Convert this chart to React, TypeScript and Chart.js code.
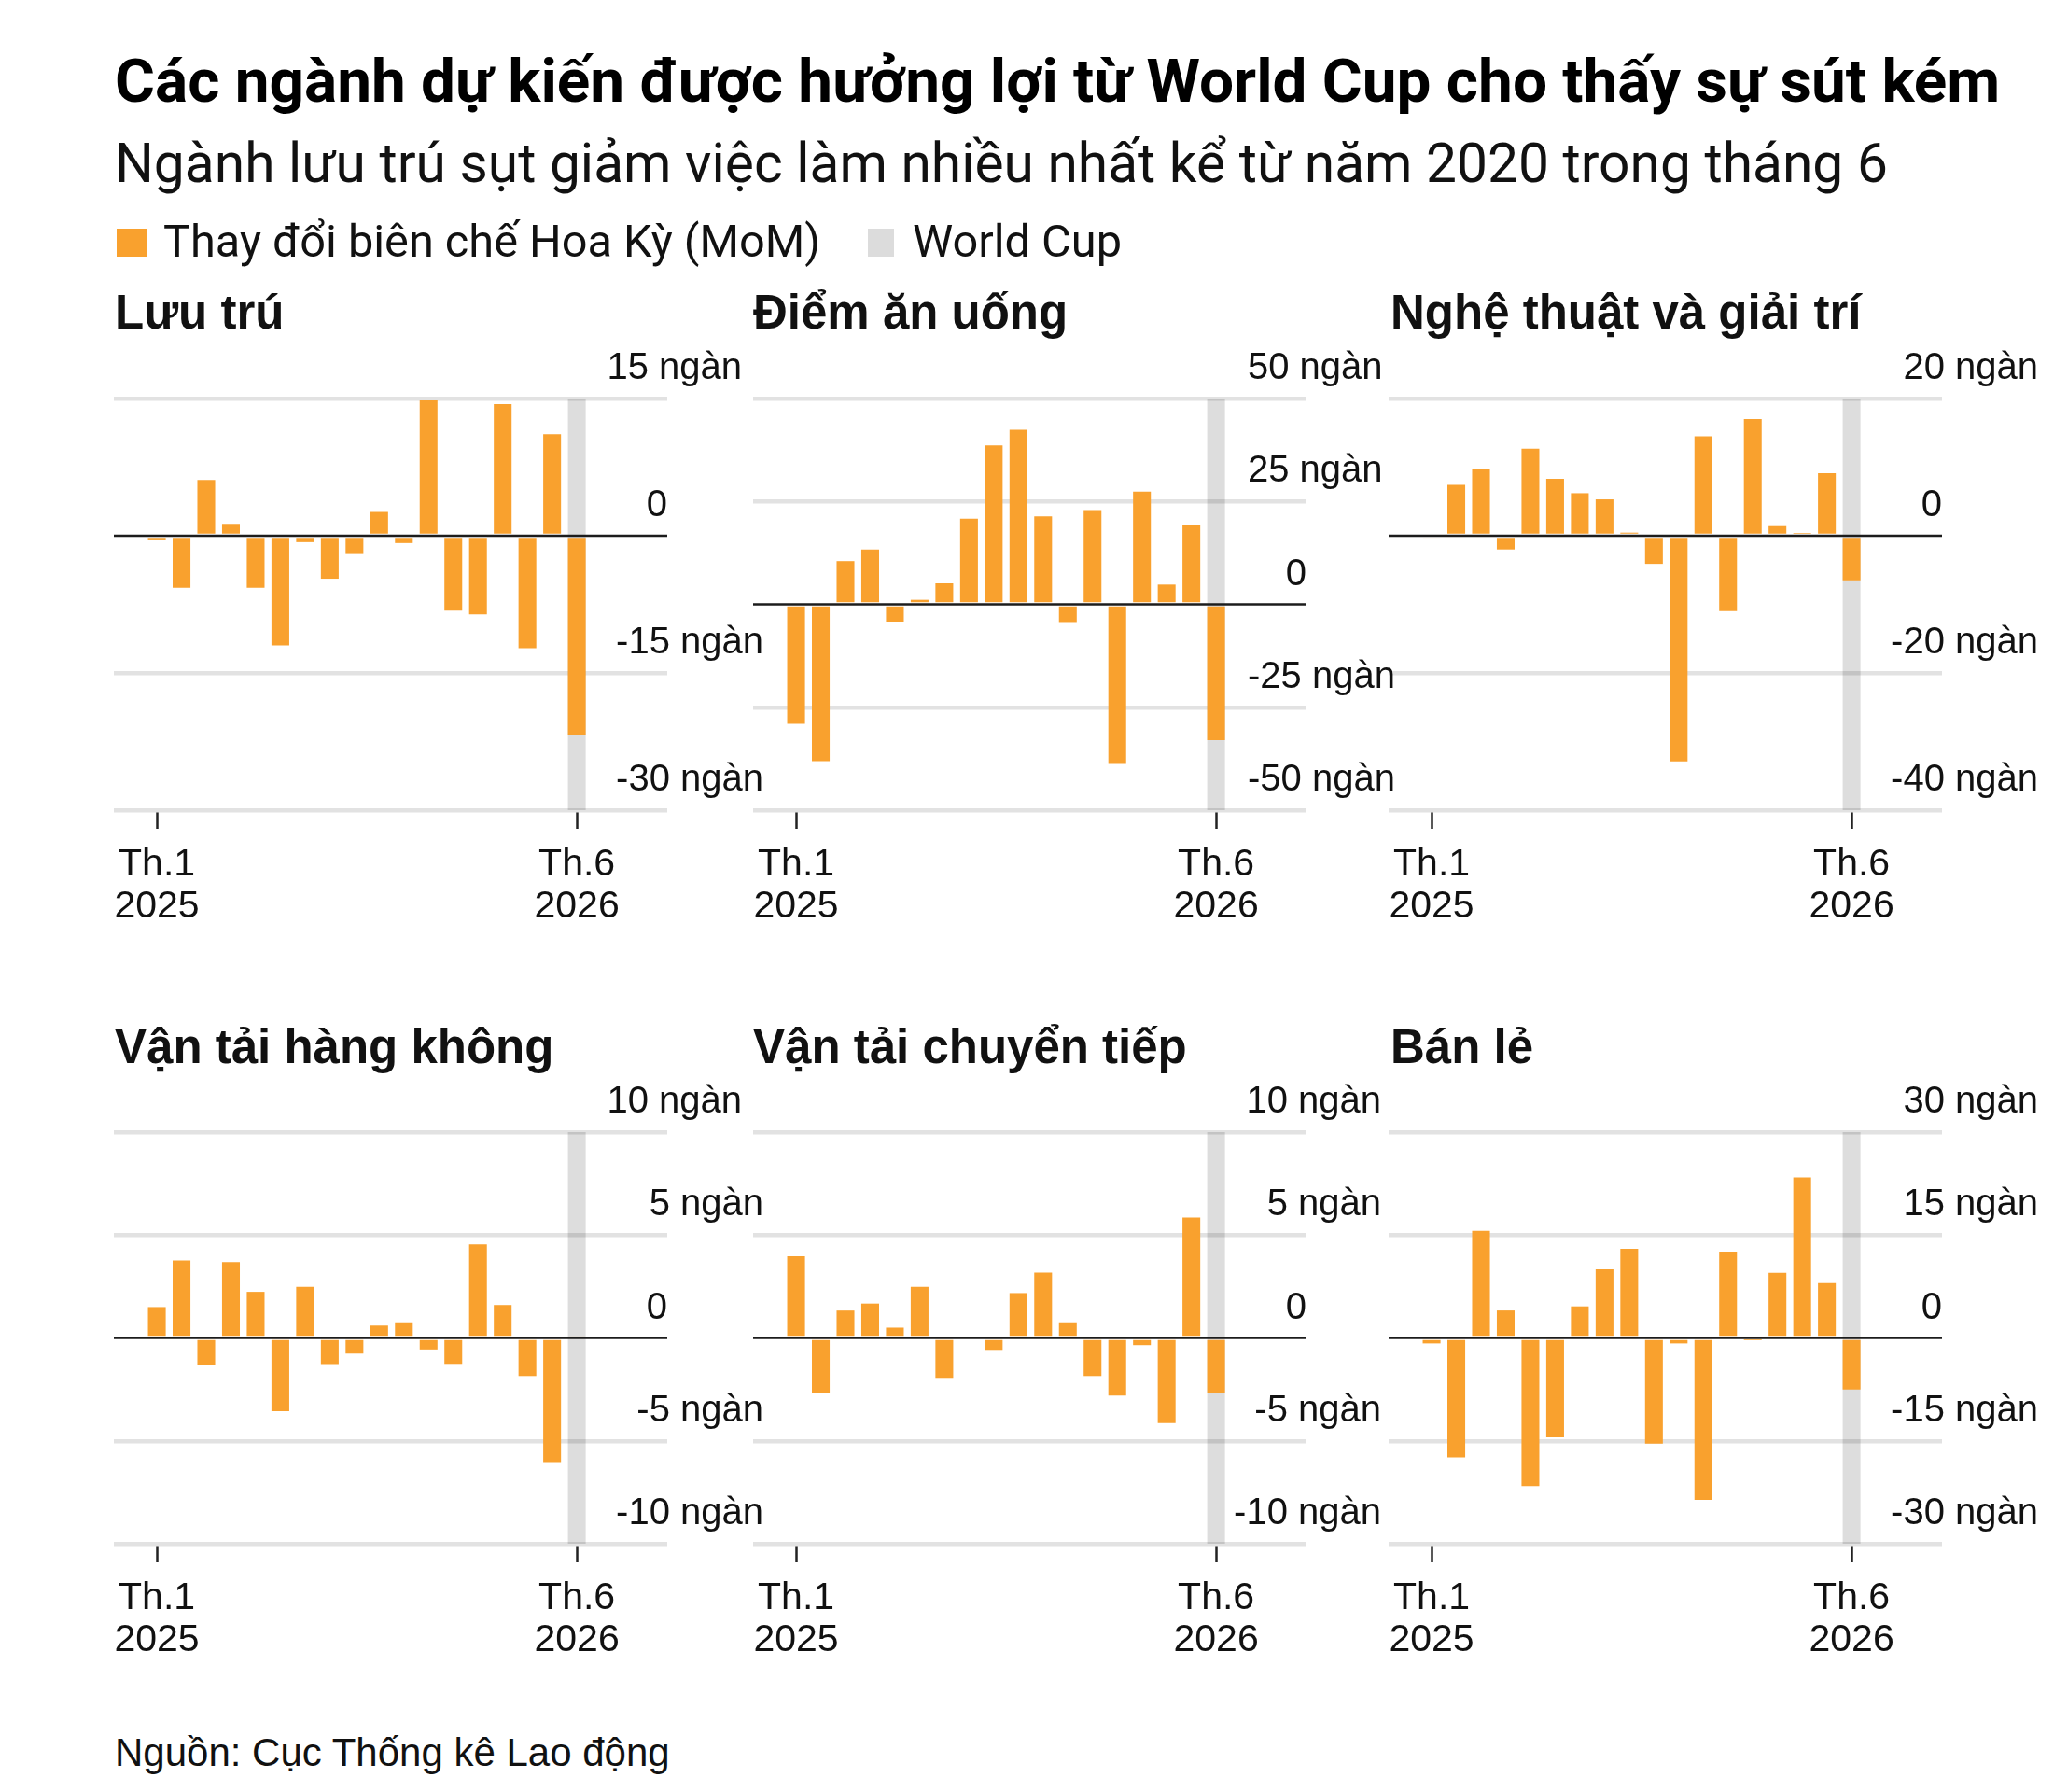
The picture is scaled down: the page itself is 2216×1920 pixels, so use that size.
import React, { useEffect, useRef } from 'react';
import { Chart, registerables } from 'chart.js';

Chart.register(...registerables);

// ---------- data (thousands of jobs, month-over-month change) ----------
const MONTHS = [
  'Th.1 2025', 'Th.2 2025', 'Th.3 2025', 'Th.4 2025', 'Th.5 2025', 'Th.6 2025',
  'Th.7 2025', 'Th.8 2025', 'Th.9 2025', 'Th.10 2025', 'Th.11 2025', 'Th.12 2025',
  'Th.1 2026', 'Th.2 2026', 'Th.3 2026', 'Th.4 2026', 'Th.5 2026', 'Th.6 2026',
];

const LUU_TRU = [-0.5, -5.7, 6.1, 1.3, -5.7, -12.0, -0.7, -4.7, -2.0, 2.6, -0.8, 14.8, -8.2, -8.6, 14.4, -12.3, 11.1, -21.8];
const DIEM_AN_UONG = [-29.0, -38.1, 10.5, 13.3, -4.2, 1.1, 5.1, 20.8, 38.6, 42.4, 21.4, -4.3, 22.9, -38.8, 27.4, 4.8, 19.2, -33.0];
const NGHE_THUAT = [-0.3, 7.4, 9.8, -2.0, 12.7, 8.3, 6.2, 5.3, 0.45, -4.1, -32.9, 14.5, -11.0, 17.0, 1.4, 0.4, 9.1, -6.5];
const VAN_TAI_HANG_KHONG = [1.5, 3.76, -1.33, 3.68, 2.24, -3.56, 2.48, -1.27, -0.76, 0.6, 0.76, -0.56, -1.26, 4.55, 1.6, -1.85, -6.03, 0.1];
const VAN_TAI_CHUYEN_TIEP = [3.97, -2.67, 1.33, 1.67, 0.5, 2.48, -1.94, 0, -0.58, 2.18, 3.18, 0.76, -1.85, -2.8, -0.35, -4.14, 5.85, -2.65];
const BAN_LE = [-0.8, -17.4, 15.6, 4.0, -21.6, -14.5, 4.6, 10.0, 13.0, -15.4, -0.8, -23.6, 12.6, -0.2, 9.5, 23.4, 8.0, -7.5];

const SERIES = [LUU_TRU, DIEM_AN_UONG, NGHE_THUAT, VAN_TAI_HANG_KHONG, VAN_TAI_CHUYEN_TIEP, BAN_LE];
const PANEL_TITLES = ['Lưu trú', 'Điểm ăn uống', 'Nghệ thuật và giải trí', 'Vận tải hàng không', 'Vận tải chuyển tiếp', 'Bán lẻ'];

const Y_MIN = [-30, -50, -40, -10, -10, -30];
const Y_MAX = [15, 50, 20, 10, 10, 30];
const Y_STEP = [15, 25, 20, 5, 5, 15];
const Y_UNIT = 'ngàn';

const X_TICK_INDEX = [0, 17];
const X_TICK_LABELS = [['Th.1', '2025'], ['Th.6', '2026']];
const WORLD_CUP_INDEX = 17;

const TITLE = 'Các ngành dự kiến được hưởng lợi từ World Cup cho thấy sự sút kém';
const SUBTITLE = 'Ngành lưu trú sụt giảm việc làm nhiều nhất kể từ năm 2020 trong tháng 6';
const LEGEND_BARS = 'Thay đổi biên chế Hoa Kỳ (MoM)';
const LEGEND_WC = 'World Cup';
const SOURCE = 'Nguồn: Cục Thống kê Lao động';

// ---------- styling / layout ----------
const ORANGE = '#F9A12E';
const BAND = 'rgba(0,0,0,0.135)';
const GRID = '#e2e2e2';
const INK = '#111111';

const AREA_LEFT = [122, 807, 1488];
const AREA_TOP = [427, 1213];
const AREA_W = 593;
const AREA_H = 441;
const PAD_L = 10;
const PAD_T = 60;
const Y_AXIS_W = 125;
const X_AXIS_H = 130;
const CANVAS_W = PAD_L + AREA_W + Y_AXIS_W;
const CANVAS_H = PAD_T + AREA_H + X_AXIS_H;
const X_MIN = -1.74;
const X_MAX = 20.66;

const LABEL_ALIGN = ['right', 'left', 'right', 'right', 'right', 'right'];
const LABEL_X = [103, -63, 103, 103, 80, 103];
const TOP_LABEL_X = [80, -63, 103, 80, 80, 103];

const TITLE_LEFT = [123, 807, 1490];
const TITLE_TOP = [309, 1096];

const panelDecor = {
  id: 'panelDecor',
  afterDatasetsDraw(chart: any) {
    const { ctx, chartArea } = chart;
    const py = chart.scales.y.getPixelForValue(0);
    ctx.save();
    ctx.strokeStyle = '#1c1c1c';
    ctx.lineWidth = 2.5;
    ctx.beginPath();
    ctx.moveTo(chartArea.left, py);
    ctx.lineTo(chartArea.right, py);
    ctx.stroke();
    ctx.restore();
  },
  afterDraw(chart: any, _args: any, opts: any) {
    const { ctx, chartArea } = chart;
    const y = chart.scales.y;
    const topValue = Math.max(...y.ticks.map((t: any) => t.value));
    ctx.save();
    ctx.font = '40px "Liberation Sans"';
    ctx.fillStyle = INK;
    ctx.textBaseline = 'alphabetic';
    y.ticks.forEach((t: any) => {
      const py = y.getPixelForValue(t.value) - 21;
      if (t.value === 0) {
        ctx.textAlign = 'right';
        ctx.fillText('0', chartArea.right, py);
        return;
      }
      const dx = t.value === topValue ? opts.topX : opts.x;
      ctx.textAlign = opts.align;
      ctx.fillText(`${t.value} ${Y_UNIT}`, chartArea.right + dx, py);
    });
    ctx.restore();
  },
};

function Panel({ index }: { index: number }) {
  const ref = useRef<HTMLCanvasElement>(null);
  const col = index % 3;
  const row = Math.floor(index / 3);

  useEffect(() => {
    const values = SERIES[index];
    const yMin = Y_MIN[index];
    const yMax = Y_MAX[index];
    const chart = new Chart(ref.current as HTMLCanvasElement, {
      type: 'bar',
      data: {
        labels: MONTHS,
        datasets: [
          {
            label: LEGEND_BARS,
            data: values.map((v, i) => ({ x: i, y: v })),
            backgroundColor: ORANGE,
            borderWidth: 0,
            grouped: false,
            order: 1,
            barPercentage: 0.9,
            categoryPercentage: 0.8,
          } as any,
          {
            label: LEGEND_WC,
            data: [{ x: WORLD_CUP_INDEX, y: [yMin, yMax] }],
            backgroundColor: BAND,
            borderWidth: 0,
            grouped: false,
            order: 2,
            barPercentage: 0.9,
            categoryPercentage: 0.8,
          } as any,
        ],
      },
      options: {
        animation: false,
        responsive: false,
        maintainAspectRatio: false,
        layout: { padding: { left: PAD_L, top: PAD_T, right: 0, bottom: 0 } },
        plugins: {
          legend: { display: false },
          tooltip: { enabled: false },
          panelDecor: { align: LABEL_ALIGN[index], x: LABEL_X[index], topX: TOP_LABEL_X[index] },
        } as any,
        scales: {
          x: {
            type: 'linear',
            min: X_MIN,
            max: X_MAX,
            offset: false,
            afterBuildTicks: (s: any) => {
              s.ticks = X_TICK_INDEX.map((v) => ({ value: v }));
            },
            afterFit: (s: any) => {
              s.height = X_AXIS_H;
              s.paddingLeft = 0;
              s.paddingRight = 0;
            },
            ticks: {
              autoSkip: false,
              maxRotation: 0,
              minRotation: 0,
              padding: 16,
              color: INK,
              font: { family: 'Liberation Sans', size: 41, lineHeight: 1.1 },
              callback: (value: any) => {
                const i = X_TICK_INDEX.indexOf(Number(value));
                return i >= 0 ? X_TICK_LABELS[i] : '';
              },
            },
            grid: {
              display: true,
              offset: false,
              drawOnChartArea: false,
              drawTicks: true,
              tickLength: 20,
              tickWidth: 2.5,
              tickColor: '#222',
            },
            border: { display: false },
          } as any,
          y: {
            position: 'right',
            min: yMin,
            max: yMax,
            afterFit: (s: any) => {
              s.width = Y_AXIS_W;
              s.paddingTop = 0;
              s.paddingBottom = 0;
            },
            ticks: { stepSize: Y_STEP[index], display: false },
            grid: {
              color: (ctx: any) => (ctx.tick && ctx.tick.value === 0 ? 'rgba(0,0,0,0)' : GRID),
              lineWidth: 4.5,
              drawTicks: false,
            },
            border: { display: false },
          } as any,
        },
      },
      plugins: [panelDecor as any],
    });
    return () => chart.destroy();
  }, [index]);

  return (
    <>
      <div
        style={{
          position: 'absolute',
          left: TITLE_LEFT[col],
          top: TITLE_TOP[row],
          fontFamily: '"Liberation Sans", Arial, sans-serif',
          fontWeight: 700,
          fontSize: 51,
          lineHeight: 1,
          color: INK,
          whiteSpace: 'nowrap',
        }}
      >
        {PANEL_TITLES[index]}
      </div>
      <canvas
        ref={ref}
        width={CANVAS_W}
        height={CANVAS_H}
        style={{
          position: 'absolute',
          left: AREA_LEFT[col] - PAD_L,
          top: AREA_TOP[row] - PAD_T,
          width: CANVAS_W,
          height: CANVAS_H,
          zIndex: 3 - col,
        }}
      />
    </>
  );
}

export default function App() {
  const textBase: React.CSSProperties = {
    position: 'absolute',
    lineHeight: 1,
    whiteSpace: 'nowrap',
    color: INK,
  };
  return (
    <div
      style={{
        position: 'absolute',
        left: 0,
        top: 0,
        width: 2216,
        height: 1920,
        background: '#ffffff',
        overflow: 'hidden',
        fontFamily: 'Roboto, sans-serif',
      }}
    >
      <div style={{ ...textBase, left: 123, top: 54, fontSize: 65.7, fontWeight: 700, color: '#000' }}>{TITLE}</div>
      <div style={{ ...textBase, left: 123, top: 146, fontSize: 58.7, fontWeight: 400 }}>{SUBTITLE}</div>

      <div style={{ position: 'absolute', left: 125, top: 245, width: 32, height: 30, background: ORANGE }} />
      <div style={{ ...textBase, left: 175, top: 235, fontSize: 48.7 }}>{LEGEND_BARS}</div>
      <div style={{ position: 'absolute', left: 930, top: 245, width: 28, height: 30, background: '#dcdcdc' }} />
      <div style={{ ...textBase, left: 978, top: 235, fontSize: 48.7 }}>{LEGEND_WC}</div>

      {SERIES.map((_, i) => (
        <Panel key={i} index={i} />
      ))}

      <div
        style={{
          ...textBase,
          left: 123,
          top: 1857,
          fontSize: 42,
          fontFamily: '"Liberation Sans", Arial, sans-serif',
        }}
      >
        {SOURCE}
      </div>
    </div>
  );
}
